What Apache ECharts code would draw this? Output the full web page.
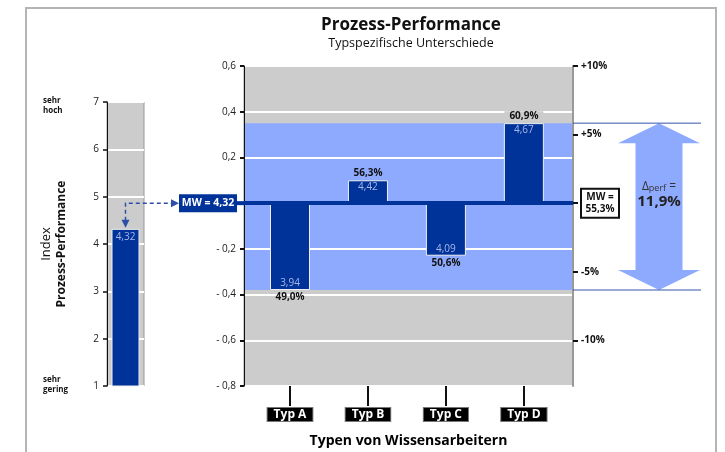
<!DOCTYPE html>
<html><head><meta charset="utf-8">
<script src="https://cdn.jsdelivr.net/npm/echarts@6/dist/echarts.min.js"></script>
<style>html,body{margin:0;padding:0;background:#fff}#c{width:725px;height:452px}</style>
</head><body><div id="c"></div>
<script>
// ---- data ----
const categories = ['Typ A', 'Typ B', 'Typ C', 'Typ D'];
const categoryPositions = [1, 2, 3, 4];
const typeIndex = [3.94, 4.42, 4.09, 4.67];
const typePercent = [49.0, 56.3, 50.6, 60.9];
const meanIndex = 4.32;
const meanPercent = 55.3;
const deltaPerf = 11.9;
const rightTickValues = [0.6, 0.3, -0.3, -0.6];
const rightTickLabels = ['+10%', '+5%', '-5%', '-10%'];
const leftCategory = ['Index'];

// ---- helpers ----
const F = 'Open Sans';
const BLUE = '#003399', BAND = '#8eaaff', GRAY = '#cccccc', LBL = '#aab6e6';
const comma = (v, d) => v.toFixed(d).replace('.', ',');
const dev = typeIndex.map(v => +(v - meanIndex).toFixed(2));
const devMin = Math.min(...dev), devMax = Math.max(...dev);
const X_MIN = 0.41, X_MAX = 4.63;

const chart = echarts.init(document.getElementById('c'), null, {renderer: 'canvas'});

const option = {
  animation: false,
  textStyle: {fontFamily: F},
  title: {
    text: 'Prozess-Performance', subtext: 'Typspezifische Unterschiede',
    left: 406, top: 12, textAlign: 'center', itemGap: 3,
    textStyle: {fontSize: 17, fontWeight: 'bold', color: '#111', fontFamily: F},
    subtextStyle: {fontSize: 12.5, color: '#111', fontFamily: F}
  },
  grid: [
    {left: 107, top: 102, width: 37, height: 284, show: true, outerBoundsMode: 'none', containLabel: false,
      backgroundColor: GRAY, borderColor: '#999', borderWidth: 1},
    {left: 244, top: 66, width: 329, height: 320, show: true, outerBoundsMode: 'none', containLabel: false,
      backgroundColor: 'transparent', borderColor: '#999', borderWidth: 1}
  ],
  xAxis: [
    {type: 'category', gridIndex: 0, data: leftCategory, axisLine: {show: false}, axisTick: {show: false}, axisLabel: {show: false}},
    {type: 'value', gridIndex: 1, min: X_MIN, max: X_MAX, position: 'bottom', splitLine: {show: false},
      axisLine: {show: false, onZero: false},
      axisTick: {show: true, customValues: categoryPositions, length: 20, lineStyle: {color: '#111', width: 2}},
      axisLabel: {customValues: categoryPositions, formatter: v => categories[categoryPositions.indexOf(v)],
        margin: 22, color: '#fff', fontWeight: 'bold', fontSize: 12, fontFamily: F,
        backgroundColor: '#000', borderColor: '#777', borderWidth: 1, padding: [1, 6, 0, 6]},
      name: 'Typen von Wissensarbeitern', nameLocation: 'middle', nameGap: 48,
      nameTextStyle: {fontSize: 14, fontWeight: 'bold', color: '#000', fontFamily: F}}
  ],
  yAxis: [
    {type: 'value', gridIndex: 0, min: 1, max: 7, interval: 1,
      axisLine: {show: true, lineStyle: {color: '#111'}},
      axisTick: {show: true, length: 4, lineStyle: {color: '#111', width: 1.5}},
      axisLabel: {fontSize: 10, color: '#222', margin: 8},
      splitLine: {show: true, lineStyle: {color: '#fff', width: 2}},
      name: '{a|Index}\n{b|Prozess-Performance}', nameLocation: 'middle', nameGap: 38, nameRotate: 90,
      nameTextStyle: {align: 'center', rich: {
        a: {fontSize: 13, color: '#111', lineHeight: 15, fontFamily: F, align: 'center'},
        b: {fontSize: 12, fontWeight: 'bold', color: '#111', lineHeight: 15, fontFamily: F, align: 'center'}}}},
    {type: 'value', gridIndex: 1, min: -0.8, max: 0.6, interval: 0.2,
      axisLine: {show: true, lineStyle: {color: '#111'}},
      axisTick: {show: true, length: 4, lineStyle: {color: '#111', width: 2}},
      axisLabel: {fontSize: 10, color: '#222', margin: 8,
        formatter: v => Math.abs(v) < 1e-9 ? '' : (v < 0 ? '- ' : '') + comma(Math.abs(v), 1)},
      splitLine: {show: true, lineStyle: {color: '#fff', width: 2}}},
    {type: 'value', gridIndex: 1, position: 'right', min: -0.8, max: 0.6,
      axisLine: {show: true, lineStyle: {color: '#999', width: 2}},
      axisTick: {show: true, customValues: rightTickValues.concat([0]), length: 5, lineStyle: {color: '#111', width: 2}},
      axisLabel: {customValues: rightTickValues, formatter: v => rightTickLabels[rightTickValues.indexOf(v)],
        fontSize: 10, fontWeight: 'bold', color: '#111', margin: 8},
      splitLine: {show: false}}
  ],
  series: [
    {type: 'line', xAxisIndex: 1, yAxisIndex: 1, z: -1, silent: true, symbol: 'none',
      lineStyle: {opacity: 0}, data: dev.map((d, i) => [categoryPositions[i], d]),
      markArea: {silent: true, z: -1, label: {show: false},
        data: [
          [{yAxis: -0.8, itemStyle: {color: GRAY}}, {yAxis: 0.6}],
          [{yAxis: devMin, itemStyle: {color: BAND}}, {yAxis: devMax}]
        ]}},
    {type: 'bar', xAxisIndex: 1, yAxisIndex: 1, barWidth: 40, z: 2,
      itemStyle: {color: BLUE, borderColor: '#eeeeee', borderWidth: 1},
      data: dev.map((d, i) => ({value: [categoryPositions[i], d],
        label: {position: d >= 0 ? 'insideTop' : 'insideBottom'}})),
      label: {show: true, formatter: p => comma(typeIndex[p.dataIndex], 2), color: LBL, fontSize: 10, distance: 2},
      markLine: {silent: true, symbol: 'none', z: 4, label: {show: false},
        lineStyle: {color: BLUE, width: 4, type: 'solid'}, data: [{yAxis: 0}]}},
    {type: 'bar', xAxisIndex: 1, yAxisIndex: 1, barWidth: 40, barGap: '-100%', z: 3,
      itemStyle: {color: 'rgba(0,0,0,0)'},
      data: dev.map((d, i) => ({value: [categoryPositions[i], d],
        label: {position: d >= 0 ? 'top' : 'bottom',
          backgroundColor: d >= devMax ? GRAY : 'transparent', padding: [0, 5]}})),
      label: {show: true, formatter: p => comma(typePercent[p.dataIndex], 1) + '%', color: '#111',
        fontWeight: 'bold', fontSize: 10, distance: 2}},
    {type: 'bar', xAxisIndex: 0, yAxisIndex: 0, barWidth: 28,
      itemStyle: {color: BLUE, borderColor: '#eeeeee', borderWidth: 1},
      data: [meanIndex],
      label: {show: true, position: 'insideTop', formatter: () => comma(meanIndex, 2), color: LBL, fontSize: 10, distance: 3}}
  ]
};
chart.setOption(option);

// ---- annotations positioned through the chart's scales ----
const yMean = chart.convertToPixel({yAxisIndex: 1}, 0);
const yTop = chart.convertToPixel({yAxisIndex: 1}, devMax);
const yBot = chart.convertToPixel({yAxisIndex: 1}, devMin);
const gL = chart.convertToPixel({xAxisIndex: 1}, X_MIN);
const gR = chart.convertToPixel({xAxisIndex: 1}, X_MAX);
const barX = chart.convertToPixel({xAxisIndex: 0}, leftCategory[0]);
const barTop = chart.convertToPixel({yAxisIndex: 0}, meanIndex);
const y7 = chart.convertToPixel({yAxisIndex: 0}, 7);
const y1 = chart.convertToPixel({yAxisIndex: 0}, 1);
const boxR = gL - 7, boxW = 58, boxL = boxR - boxW;
const cx = gR + 86;
const DASH = '#2d4fa8';

chart.setOption({graphic: [
  {type: 'rect', silent: true, z: -10, shape: {x: 26, y: 8, width: 690, height: 480},
    style: {fill: 'none', stroke: '#b5b5b5', lineWidth: 2}},
  {type: 'text', silent: true, x: 43, y: y7 + 4, style: {text: 'sehr\nhoch', font: 'bold 8px "Open Sans"', fill: '#111', verticalAlign: 'middle', lineHeight: 10}},
  {type: 'text', silent: true, x: 43, y: y1 - 1, style: {text: 'sehr\ngering', font: 'bold 8px "Open Sans"', fill: '#111', verticalAlign: 'middle', lineHeight: 10}},
  // dashed connector
  {type: 'polyline', silent: true, z: 20, shape: {points: [[barX, barTop - 8], [barX, yMean], [boxL - 7, yMean]]},
    style: {stroke: DASH, lineWidth: 1.5, lineDash: [4, 3], fill: 'none'}},
  {type: 'polygon', silent: true, z: 20, shape: {points: [[boxL - 8, yMean - 4], [boxL, yMean], [boxL - 8, yMean + 4]]}, style: {fill: DASH}},
  {type: 'polygon', silent: true, z: 20, shape: {points: [[barX - 4, barTop - 9], [barX + 4, barTop - 9], [barX, barTop - 1]]}, style: {fill: DASH}},
  // left MW box
  {type: 'rect', silent: true, z: 20, shape: {x: gL - 8, y: yMean - 2, width: 9, height: 4}, style: {fill: BLUE}},
  {type: 'rect', silent: true, z: 20, shape: {x: boxL, y: yMean - 9, width: boxW, height: 18}, style: {fill: BLUE}},
  {type: 'text', silent: true, z: 21, x: boxL + boxW / 2, y: yMean, style: {text: 'MW = ' + comma(meanIndex, 2), align: 'center', verticalAlign: 'middle', fill: '#fff', font: 'bold 10.5px "Open Sans"'}},
  // right MW box
  {type: 'rect', silent: true, z: 20, shape: {x: gR + 8, y: yMean - 14.5, width: 38, height: 29}, style: {fill: '#fff', stroke: '#111', lineWidth: 2}},
  {type: 'text', silent: true, z: 21, x: gR + 27, y: yMean, style: {text: 'MW =\n' + comma(meanPercent, 1) + '%', align: 'center', verticalAlign: 'middle', fill: '#111', font: 'bold 10px "Open Sans"', lineHeight: 12}},
  // band extent lines
  {type: 'line', silent: true, z: 20, shape: {x1: gR, y1: yTop, x2: gR + 128, y2: yTop}, style: {stroke: '#3355aa', lineWidth: 1}},
  {type: 'line', silent: true, z: 20, shape: {x1: gR, y1: yBot, x2: gR + 128, y2: yBot}, style: {stroke: '#3355aa', lineWidth: 1}},
  // double arrow
  {type: 'polygon', silent: true, z: 19, shape: {points: [
    [cx, yTop], [cx + 41, yTop + 20], [cx + 23.5, yTop + 20], [cx + 23.5, yBot - 20], [cx + 41, yBot - 20],
    [cx, yBot], [cx - 41, yBot - 20], [cx - 23.5, yBot - 20], [cx - 23.5, yTop + 20], [cx - 41, yTop + 20]]},
    style: {fill: BAND}},
  {type: 'text', silent: true, z: 21, x: cx, y: yMean - 17, style: {
    text: '{d|Δ}{s|perf}{d| =}', align: 'center', verticalAlign: 'middle',
    rich: {d: {fontSize: 12, fill: '#333', fontFamily: F}, s: {fontSize: 9, fill: '#333', fontFamily: F, padding: [5, 0, 0, 0]}}}},
  {type: 'text', silent: true, z: 21, x: cx, y: yMean - 1, style: {text: comma(deltaPerf, 1) + '%', align: 'center', verticalAlign: 'middle', fill: '#222', font: 'bold 15px "Open Sans"'}}
]});
</script>
</body></html>
